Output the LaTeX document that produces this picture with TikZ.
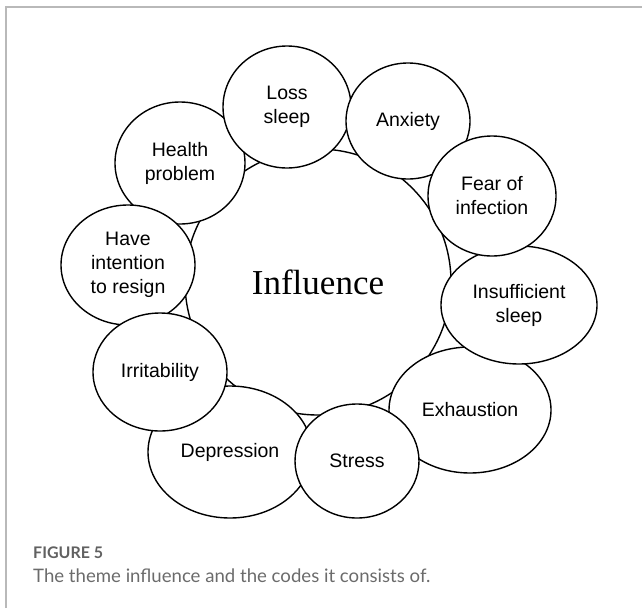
\documentclass[tikz,border=0pt]{standalone}
\usepackage{fontspec}
\setmainfont{Liberation Sans}
\newfontfamily\serifrm{Liberation Serif}
\newfontfamily\capfont{Lato}
\usetikzlibrary{shapes.geometric}

\begin{document}
\begin{tikzpicture}[x=1pt,y=-1pt,
  code/.style={draw,ellipse,line width=1.4pt,fill=white,inner sep=0pt,align=center,
    font=\fontsize{19.5}{24}\selectfont},
  theme/.style={draw,circle,line width=1.4pt,inner sep=0pt,minimum size=266pt,
    font=\serifrm\fontsize{35}{40}\selectfont}]
  \useasboundingbox (0,0) rectangle (642,608);
  \draw[gray!55,line width=1.5pt] (6,608) -- (6,7) -- (642,7);
  % theme in the middle, codes round it
  \node[theme] (influence) at (318,282) {Influence};
  \node[code,minimum width=130pt,minimum height=122pt] (health) at (180,163) {Health\\problem};
  \node[code,minimum width=128pt,minimum height=122pt] (losssleep) at (287,107) {Loss\\sleep};
  \node[code,minimum width=124pt,minimum height=116pt] (anxiety) at (408,121) {Anxiety};
  \node[code,minimum width=162pt,minimum height=126pt] (exhaustion) at (470,410) {Exhaustion};
  \node[code,minimum width=156pt,minimum height=118pt] (insufficient) at (519,305) {Insufficient\\sleep};
  \node[code,minimum width=128pt,minimum height=120pt] (fear) at (492,196) {Fear of\\infection};
  \node[code,minimum width=164pt,minimum height=132pt] (depression) at (230,452) {Depression};
  \node[code,minimum width=124pt,minimum height=114pt] (stress) at (357,461) {Stress};
  \node[code,minimum width=134pt,minimum height=120pt] (resign) at (128,265) {Have\\intention\\to resign};
  \node[code,minimum width=134pt,minimum height=118pt] (irritability) at (160,372) {Irritability};
  % caption
  \node[anchor=west,inner sep=0pt,text=black!62,font=\capfont\bfseries\fontsize{16}{18}\selectfont] (figlabel) at (33,553) {FIGURE 5};
  \node[anchor=west,inner sep=0pt,text=black!58,font=\capfont\fontsize{18.6}{20}\selectfont] (caption) at (33,576) {The theme influence and the codes it consists of.};
\end{tikzpicture}
\end{document}
